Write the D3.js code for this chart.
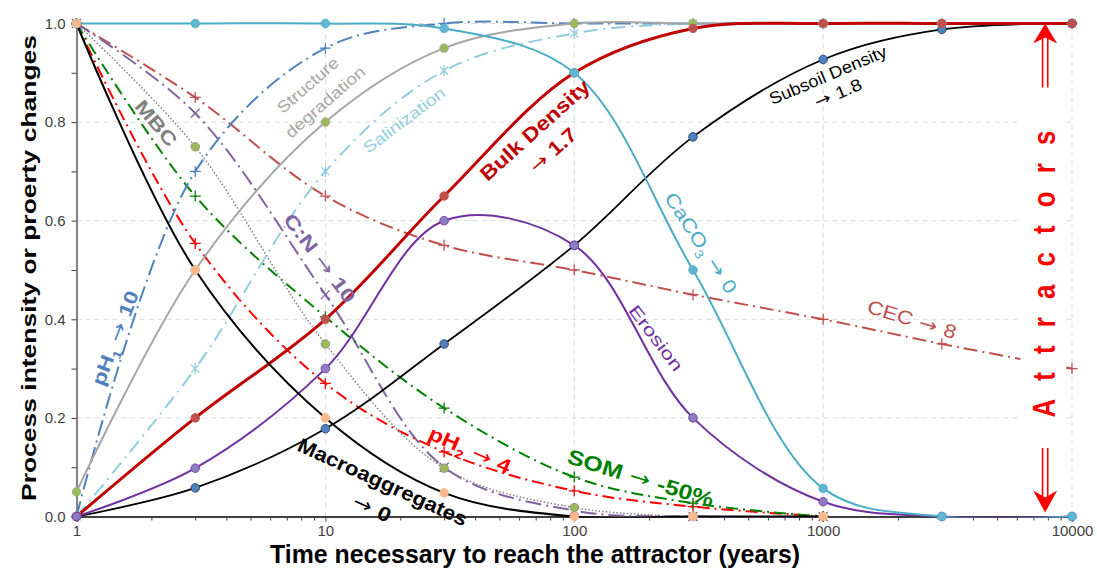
<!DOCTYPE html>
<html>
<head>
<meta charset="utf-8">
<script src="https://cdn.jsdelivr.net/npm/d3@7"></script>
<style>
  body { margin: 0; background: #fff; }
  svg { display: block; }
  text { font-family: "Liberation Sans", Arial, sans-serif; }
  .arrow { font-family: "DejaVu Sans", sans-serif; font-weight: normal; }
</style>
</head>
<body>
<svg id="chart" width="1097" height="569"></svg>
<script>
// ---- data: time (years) and relative change of each soil process / property ----
const years = [1, 3, 10, 30, 100, 300, 1000, 3000, 10000];

const caco3            = [1, 1, 1, 0.99, 0.9, 0.5, 0.057, 0, 0];
const bulkDensity      = [0, 0.2, 0.4, 0.65, 0.9, 0.99, 1, 1, 1];
const subsoilDensity   = [0, 0.058, 0.178, 0.35, 0.55, 0.77, 0.927, 0.988, 1];
const erosion          = [0, 0.098, 0.3, 0.6, 0.55, 0.2, 0.03, 0, 0];
const structureDegr    = [0.05, 0.5, 0.8, 0.95, 1, 1, 1, 1, 1];
const mbc              = [1, 0.75, 0.35, 0.098, 0.018, 0];
const macroaggregates  = [1, 0.5, 0.2, 0.048, 0, 0, 0];
const ph1              = [0, 0.7, 0.95, 1, 1, 1, 1, 1, 1];
const salinization     = [0, 0.3, 0.7, 0.904, 0.98, 1, 1, 1, 1];
const cec              = [1, 0.85, 0.65, 0.55, 0.5, 0.45, 0.4, 0.35, 0.3];
const cn               = [1, 0.818, 0.45, 0.1, 0.012, 0, 0];
const ph2              = [1, 0.554, 0.27, 0.131, 0.052, 0.02, 0];
const som              = [1, 0.65, 0.405, 0.22, 0.08, 0.027, 0];

const yTicks = [0, 0.2, 0.4, 0.6, 0.8, 1.0];
const yMinorTicks = [0.1, 0.3, 0.5, 0.7, 0.9];
const xTicks = [1, 10, 100, 1000, 10000];

// ---- layout ----
const svg = d3.select("#chart");
const x = d3.scaleLog().domain([1, 10000]).range([76.5, 1072]);
const y = d3.scaleLinear().domain([0, 1]).range([516.5, 23.5]);

// ---- gridlines ----
const grid = svg.append("g").attr("stroke", "#d9d9d9").attr("stroke-width", 1).attr("stroke-dasharray", "5,4");
grid.selectAll(".gh").data(yTicks.slice(1)).join("line")
  .attr("x1", x(1)).attr("x2", x(10000)).attr("y1", d => y(d)).attr("y2", d => y(d));
grid.selectAll(".gv").data(xTicks.slice(1)).join("line")
  .attr("x1", d => x(d)).attr("x2", d => x(d)).attr("y1", y(0)).attr("y2", y(1));

// ---- axes ----
const yAxis = svg.append("g").attr("transform", `translate(${x(1)},0)`)
  .call(d3.axisLeft(y).tickValues(yTicks).tickFormat(d3.format(".1f")).tickSize(5).tickPadding(6));
svg.append("g").attr("transform", `translate(${x(1)},0)`)
  .call(d3.axisLeft(y).tickValues(yMinorTicks).tickSize(5))
  .call(g => { g.select(".domain").remove(); g.selectAll("text").remove(); });
yAxis.select(".domain").attr("stroke", "#595959").attr("stroke-width", 1.5);

const xMinor = x.ticks().filter(v => !xTicks.includes(v));
const xAxis = svg.append("g").attr("transform", `translate(0,${y(0)})`)
  .call(d3.axisBottom(x).tickValues(xTicks).tickFormat(d3.format("d")).tickSize(5).tickPadding(4));
svg.append("g").attr("transform", `translate(0,${y(0)})`)
  .call(d3.axisBottom(x).tickValues(xMinor).tickSize(4))
  .call(g => { g.select(".domain").remove(); g.selectAll("text").remove(); });
xAxis.select(".domain").attr("stroke", "#000").attr("stroke-width", 1.5);

svg.selectAll(".tick line").attr("stroke", "#404040");
svg.selectAll(".tick text").attr("fill", "#404040").style("font-size", "15px")
  .style("font-family", "'Liberation Sans', Arial, sans-serif");

// axis titles
svg.append("text")
  .attr("x", 535).attr("y", 563)
  .attr("text-anchor", "middle")
  .attr("textLength", 530).attr("lengthAdjust", "spacingAndGlyphs")
  .style("font-size", "25px").style("font-weight", "bold").attr("fill", "#000")
  .text("Time necessary to reach the attractor (years)");

svg.append("text")
  .attr("transform", `translate(36,268) rotate(-90)`)
  .attr("text-anchor", "middle")
  .attr("textLength", 466).attr("lengthAdjust", "spacingAndGlyphs")
  .style("font-size", "21px").style("font-weight", "bold").attr("fill", "#000")
  .text("Process intensity or proerty changes");

// ---- series ----
const series = [
  { name: "CEC", values: cec, color: "#c0504d", width: 2, dash: "14,5,2,5", marker: "plus" },
  { name: "C:N", values: cn, color: "#8064a2", width: 2, dash: "16,5,2,5", marker: "cross" },
  { name: "pH2", values: ph2, color: "#ff0000", width: 2, dash: "12,5,2,5", marker: "plus" },
  { name: "SOM", values: som, color: "#008000", width: 2, dash: "12,5,2,5", marker: "plus" },
  { name: "MBC", values: mbc, color: "#808080", width: 1.5, dash: "1.5,2", marker: "circle", fill: "#9bbb59", stroke: "#8a8a8a" },
  { name: "pH1", values: ph1, color: "#4f81bd", width: 2, dash: "16,5,2,5", marker: "plus" },
  { name: "Salinization", values: salinization, color: "#92cddc", width: 2, dash: "14,6,2,6", marker: "star" },
  { name: "Structure degradation", values: structureDegr, color: "#a6a6a6", width: 2, marker: "circle", fill: "#9bbb59", stroke: "#a6a6a6" },
  { name: "Subsoil Density", values: subsoilDensity, color: "#000", width: 1.75, marker: "circle", fill: "#4f81bd", stroke: "#1f3864" },
  { name: "Bulk Density", values: bulkDensity, color: "#c00000", width: 3, marker: "circle", fill: "#c0504d", stroke: "#c0504d" },
  { name: "Erosion", values: erosion, color: "#7030a0", width: 2, marker: "circle", fill: "#8e7cc3", stroke: "#7030a0" },
  { name: "CaCO3", values: caco3, color: "#4bacc6", width: 2, marker: "circle", fill: "#5fb7cf", stroke: "#4bacc6" },
  { name: "Macroaggregates", values: macroaggregates, color: "#000", width: 2, marker: "circle", fill: "#f9b88a", stroke: "#f9b88a" }
];

svg.append("clipPath").attr("id", "plotClip").append("rect")
  .attr("x", x(1) - 6).attr("y", y(1) - 5).attr("width", x(10000) - x(1) + 12).attr("height", y(0) - y(1) + 6);

const line = d3.line()
  .x(d => x(d.year)).y(d => y(d.v))
  .curve(d3.curveCatmullRom.alpha(0.5));

const plot = svg.append("g");
const linesG = plot.append("g").attr("clip-path", "url(#plotClip)");
series.forEach(s => {
  const pts = s.values.map((v, i) => ({ year: years[i], v }));
  s.pts = pts;
  linesG.append("path").datum(pts)
    .attr("fill", "none").attr("stroke", s.color).attr("stroke-width", s.width)
    .attr("stroke-dasharray", s.dash || null)
    .attr("stroke-linejoin", "round")
    .attr("d", line);
});

// white panel behind the "Attractors" caption
svg.append("rect")
  .attr("x", x(6200)).attr("y", y(0.855)).attr("width", x(9400) - x(6200)).attr("height", y(0.145) - y(0.855))
  .attr("fill", "#fff");

// markers
const markerG = svg.append("g");
series.forEach(s => {
  const g = markerG.append("g");
  const sel = g.selectAll("g").data(s.pts).join("g")
    .attr("transform", d => `translate(${x(d.year)},${y(d.v)})`);
  if (s.marker === "circle") {
    sel.append("circle").attr("r", 4.3).attr("fill", s.fill).attr("stroke", s.stroke).attr("stroke-width", 0.8);
  } else if (s.marker === "plus") {
    sel.append("path").attr("d", "M-5.5,0H5.5M0,-5.5V5.5").attr("stroke", s.color).attr("stroke-width", 1.3).attr("fill", "none");
  } else if (s.marker === "cross") {
    sel.append("path").attr("d", "M-4.5,-4.5L4.5,4.5M-4.5,4.5L4.5,-4.5").attr("stroke", s.color).attr("stroke-width", 1.3).attr("fill", "none");
  } else if (s.marker === "star") {
    sel.append("path").attr("d", "M-4,-4L4,4M-4,4L4,-4M0,-5.5V5.5").attr("stroke", s.color).attr("stroke-width", 1.3).attr("fill", "none");
  }
});

// ---- in-plot captions ----
const ARROW = { t: " → ", arrow: true };
const labels = [
  { parts: ["MBC"], at: [2.09, 0.798], angle: 50, size: 19, weight: "bold", color: "#808080", len: 54 },
  { parts: ["Structure"], at: [8.5, 0.875], angle: -41, size: 16, color: "#a6a6a6", len: 76 },
  { parts: ["degradation"], at: [9.96, 0.841], angle: -41, size: 16, color: "#a6a6a6", len: 100 },
  { parts: ["Salinization"], at: [20.7, 0.804], angle: -37, size: 16, color: "#92cddc", len: 98 },
  { parts: ["Bulk Density"], at: [69.5, 0.784], angle: -42, size: 20, weight: "bold", color: "#c00000", len: 140 },
  { parts: [{ t: "→ ", arrow: true }, "1.7"], at: [82, 0.743], angle: -42, size: 20, weight: "bold", color: "#c00000", len: 56 },
  { parts: ["Subsoil Density"], at: [1045, 0.8955], angle: -23, size: 17, color: "#000", len: 126 },
  { parts: [{ t: "→ ", arrow: true }, "1.8"], at: [1147, 0.859], angle: -23, size: 17, color: "#000", len: 50 },
  { parts: ["CaCO", { t: "3", sub: true }, ARROW, "0"], at: [323, 0.555], angle: 57, size: 19, color: "#4bacc6", len: 116 },
  { parts: ["C:N", ARROW, "10"], at: [9.5, 0.524], angle: 53, size: 19, weight: "bold", color: "#8064a2", len: 106 },
  { parts: ["pH", { t: "1", sub: true }, ARROW, "10"], at: [1.43, 0.362], angle: -69, size: 19, weight: "bold", color: "#4f81bd", len: 100 },
  { parts: ["Erosion"], at: [213, 0.362], angle: 53, size: 17, color: "#7030a0", len: 78 },
  { parts: ["CEC", ARROW, "8"], at: [2274, 0.4], angle: 17, size: 19, color: "#c0504d", len: 92 },
  { parts: ["pH", { t: "2", sub: true }, ARROW, "4"], at: [38.1, 0.135], angle: 24, size: 20, weight: "bold", color: "#ff0000", len: 88 },
  { parts: ["SOM", ARROW, "-50%"], at: [185, 0.078], angle: 17, size: 21, weight: "bold", color: "#008000", len: 152 },
  { parts: ["Macroaggregates"], at: [17.0, 0.07], angle: 24.5, size: 20, weight: "bold", color: "#000", len: 184 },
  { parts: [{ t: "→ ", arrow: true }, "0"], at: [15.4, 0.017], angle: 25, size: 20, weight: "bold", color: "#000", len: 40 }
];

const labelG = svg.append("g");
labels.forEach(L => {
  const t = labelG.append("text")
    .attr("transform", `translate(${x(L.at[0])},${y(L.at[1])}) rotate(${L.angle})`)
    .attr("text-anchor", "middle").attr("dy", "0.35em")
    .style("font-size", L.size + "px").style("font-weight", L.weight || "normal")
    .attr("fill", L.color);
  if (L.len) t.attr("textLength", L.len).attr("lengthAdjust", "spacingAndGlyphs");
  const shift = L.size * 0.28;
  let lowered = false;
  L.parts.forEach(p => {
    const ts = t.append("tspan").text(typeof p === "string" ? p : p.t);
    if (lowered) { ts.attr("dy", -shift); lowered = false; }
    if (typeof p === "string") return;
    if (p.arrow) ts.attr("class", "arrow");
    if (p.sub) {
      ts.style("font-size", (L.size * 0.62) + "px").attr("dy", shift);
      lowered = true;
    }
  });
});

// ---- attractor caption and arrows ----
const ax = x(7800);
svg.append("text")
  .attr("transform", `translate(${ax + 10},${y(0.51)}) rotate(-90)`)
  .attr("text-anchor", "middle")
  .attr("textLength", 305).attr("lengthAdjust", "spacingAndGlyphs")
  .style("font-size", "31px").style("font-weight", "bold").style("letter-spacing", "0.7em")
  .attr("fill", "#ff0000")
  .text("Attractors");

const arrowG = svg.append("g").attr("fill", "#ff0000").attr("stroke", "#ff0000");
// upward double arrow
arrowG.append("path").attr("fill", "none").attr("stroke-width", 1.6)
  .attr("d", `M${ax - 2.6},${y(0.87)}V${y(1) + 14}M${ax + 2.6},${y(0.87)}V${y(1) + 14}`);
arrowG.append("path").attr("stroke", "none")
  .attr("d", `M${ax},${y(1)}L${ax + 12},${y(1) + 20}L${ax},${y(1) + 14}L${ax - 12},${y(1) + 20}Z`);
// downward double arrow
arrowG.append("path").attr("fill", "none").attr("stroke-width", 1.6)
  .attr("d", `M${ax - 2.6},${y(0.139)}V${y(0) - 18}M${ax + 2.6},${y(0.139)}V${y(0) - 18}`);
arrowG.append("path").attr("stroke", "none")
  .attr("d", `M${ax},${y(0) - 4}L${ax + 12},${y(0) - 26}L${ax},${y(0) - 19}L${ax - 12},${y(0) - 26}Z`);
</script>
</body>
</html>
